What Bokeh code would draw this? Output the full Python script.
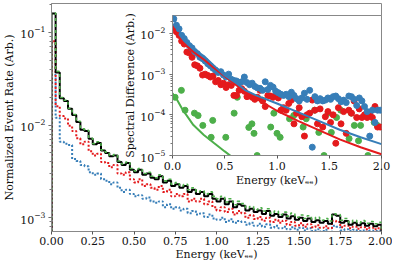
import numpy as np
from bokeh.plotting import figure
from bokeh.layouts import column
from bokeh.models import FixedTicker, PrintfTickFormatter, Range1d
from bokeh.embed import file_html
from bokeh.resources import INLINE

# ---------------- data ----------------
bin_edges = [round(0.025 * i, 4) for i in range(81)]
x_ticks_main = [0.0, 0.25, 0.5, 0.75, 1.0, 1.25, 1.5, 1.75, 2.0]
x_ticks_inset = [0.0, 0.5, 1.0, 1.5, 2.0]

rate_black = [0.160, 0.037, 0.0195, 0.0182, 0.0150, 0.0128, 0.0108, 0.0089, 0.0086, 0.0071,
              0.0062, 0.0064, 0.0053, 0.0050, 0.0046, 0.0047, 0.0040, 0.0037, 0.0039, 0.0033,
              0.0031, 0.0033, 0.0029, 0.0030, 0.0027, 0.0026, 0.0028, 0.0024, 0.0025, 0.0022,
              0.0023, 0.0021, 0.0022, 0.0019, 0.0020, 0.0018, 0.0019, 0.0017, 0.0018, 0.0016,
              0.0015, 0.0016, 0.0014, 0.0015, 0.0013, 0.0014, 0.00135, 0.0012, 0.00125, 0.00115,
              0.0012, 0.0011, 0.00118, 0.00105, 0.0011, 0.00102, 0.00108, 0.00098, 0.00104, 0.00095,
              0.0010, 0.00092, 0.00098, 0.00090, 0.00094, 0.00088, 0.00092, 0.00086, 0.00108, 0.00105,
              0.00088, 0.00092, 0.00084, 0.00088, 0.00083, 0.00087, 0.00082, 0.00086, 0.00081, 0.00084]
rate_green = [0.162, 0.038, 0.0198, 0.0185, 0.0152, 0.0130, 0.0110, 0.0091, 0.0088, 0.0072,
              0.0063, 0.0066, 0.0054, 0.0051, 0.0047, 0.0048, 0.0041, 0.0038, 0.0040, 0.0034,
              0.0032, 0.0034, 0.0030, 0.0031, 0.0028, 0.0027, 0.0029, 0.0025, 0.0026, 0.0023,
              0.0024, 0.0022, 0.0023, 0.0020, 0.0021, 0.0019, 0.00195, 0.0018, 0.0019, 0.0017,
              0.0016, 0.0017, 0.00148, 0.0016, 0.00138, 0.0015, 0.00142, 0.00128, 0.00132, 0.00122,
              0.00128, 0.00118, 0.00125, 0.00112, 0.00118, 0.00108, 0.00115, 0.00104, 0.00112, 0.00101,
              0.00107, 0.00098, 0.00105, 0.00096, 0.00101, 0.00094, 0.00098, 0.00092, 0.00110, 0.00108,
              0.00094, 0.00098, 0.00089, 0.00094, 0.00088, 0.00093, 0.00087, 0.00091, 0.00086, 0.00089]
rate_red = [0.080, 0.016, 0.0125, 0.0118, 0.0098, 0.0086, 0.0072, 0.0062, 0.0066, 0.0052,
            0.0047, 0.0049, 0.0040, 0.0039, 0.0035, 0.0037, 0.0030, 0.0029, 0.0031, 0.0026,
            0.0024, 0.0026, 0.0022, 0.0023, 0.0021, 0.0020, 0.0022, 0.0019, 0.0020, 0.0017,
            0.0018, 0.0017, 0.0018, 0.0015, 0.0016, 0.0015, 0.0016, 0.0014, 0.0015, 0.0013,
            0.0012, 0.0013, 0.00115, 0.00125, 0.00108, 0.00118, 0.00112, 0.0010, 0.00106, 0.00097,
            0.00102, 0.00093, 0.0010, 0.00090, 0.00095, 0.00088, 0.00093, 0.00084, 0.00090, 0.00082,
            0.00087, 0.00080, 0.00085, 0.00079, 0.00083, 0.00078, 0.00081, 0.00077, 0.00093, 0.00090,
            0.00079, 0.00082, 0.00077, 0.00080, 0.00076, 0.00079, 0.00075, 0.00078, 0.00075, 0.00077]
rate_blue = [0.035, 0.012, 0.0066, 0.0063, 0.0061, 0.0043, 0.0041, 0.0037, 0.0036, 0.0031,
             0.0029, 0.0030, 0.0026, 0.0025, 0.0023, 0.0024, 0.0021, 0.0019, 0.0020, 0.0018,
             0.0017, 0.00175, 0.0016, 0.00165, 0.0015, 0.00145, 0.0015, 0.0013, 0.0014, 0.00125,
             0.0013, 0.0012, 0.00125, 0.00112, 0.00118, 0.00108, 0.00112, 0.00102, 0.00108, 0.00098,
             0.00095, 0.0010, 0.00090, 0.00096, 0.00088, 0.00092, 0.00090, 0.00084, 0.00088, 0.00082,
             0.00086, 0.00080, 0.00085, 0.00078, 0.00082, 0.00077, 0.00080, 0.00075, 0.00079, 0.00074,
             0.00078, 0.00073, 0.00077, 0.00072, 0.00075, 0.00071, 0.00074, 0.00070, 0.00082, 0.00080,
             0.00073, 0.00075, 0.00072, 0.00074, 0.00072, 0.00073, 0.00071, 0.00073, 0.00072, 0.00073]

# inset: spectral differences per bin
diff_blue = [2.3e-2, 1.6e-2, 1.3e-2, 9e-3, 7.5e-3, 6e-3, 5e-3, 4.4e-3, 3.6e-3, 3.2e-3,
             2.6e-3, 2.4e-3, 2.1e-3, 1.8e-3, 1.6e-3, 1.4e-3, 1.25e-3, 1.1e-3, 1.15e-3, 9.5e-4,
             8.5e-4, 1.0e-3, 7.5e-4, 7e-4, 6.8e-4, 6.2e-4, 6.5e-4, 8.5e-4, 6.2e-4, 5.5e-4,
             6e-4, 5e-4, 4.6e-4, 4.5e-4, 4e-4, 6.5e-4, 4.2e-4, 5.3e-4, 4.8e-4, 3.8e-4,
             3.5e-4, 3.2e-4, 3e-4, 3.2e-4, 2.8e-4, 3.6e-4, 3e-4, 2.5e-4, 2.2e-4, 2.6e-4,
             3.4e-4, 2.4e-4, 4e-4, 1.6e-5, 2.8e-4, 2.2e-4, 2.5e-4, 2.2e-4, 2.3e-4, 2.6e-4,
             2.4e-4, 2.8e-4, 2.9e-4, 2.5e-4, 2.1e-4, 2.3e-4, 2.0e-4, 2.9e-4, 2.8e-4, 2.4e-4,
             1.7e-4, 2.6e-4, 2.2e-4, 1.6e-4, 1.2e-4, 3e-5, 1.3e-4, 6.5e-5, 1.3e-4, 1.3e-4]
diff_red = [1.4e-2, 1.1e-2, 9e-3, 6.5e-3, 5.5e-3, 3.5e-3, 3.3e-3, 2.6e-3, 1.7e-3, 1.6e-3,
            1.4e-3, 9.5e-4, 1.0e-3, 9.3e-4, 8.5e-4, 9e-4, 6.5e-4, 7e-4, 5.5e-4, 6e-4,
            4.7e-4, 5.5e-4, 5.3e-4, 3e-4, 3e-4, 4e-4, 4.4e-4, 3.8e-4, 2.8e-4, 3e-4,
            2.7e-4, 2.4e-4, 2.7e-4, 4e-4, 2.2e-4, 1.6e-4, 3e-4, 2.9e-4, 2.7e-4, 3e-4,
            2.6e-4, 1.3e-4, 1.5e-4, 1.3e-4, 1.9e-4, 2.3e-4, 6e-5, 1.1e-4, 1.5e-4, 9e-5,
            3e-5, 1.0e-4, 1.1e-4, 2.3e-4, 1.3e-4, 6e-5, 1.4e-4, 5e-5, 9e-5, 1.2e-4,
            6.5e-5, 1.0e-4, 2e-5, 1.5e-4, 6e-5, 1.2e-4, 3.5e-5, 1.3e-4, 1.1e-4, 2.2e-4,
            8.6e-5, 1.4e-4, 8.6e-5, 1.0e-4, 8.6e-5, 1.1e-4, 8.6e-5, 1.6e-4, 5e-5, 5e-5]
green_dot_E = [0.025, 0.085, 0.12, 0.21, 0.245, 0.29, 0.37, 0.385, 0.51, 0.59, 0.62, 0.73,
               0.76, 0.78, 0.81, 0.86, 0.94, 0.97, 1.0, 1.03, 1.12, 1.16, 1.25, 1.28, 1.36,
               1.4, 1.45, 1.49, 1.52, 1.57, 1.61, 1.69, 1.71, 1.74, 1.78, 1.8, 1.87, 1.93, 1.96]
green_dot_v = [2.7e-4, 4e-4, 1.3e-4, 1.1e-4, 9.6e-5, 5.5e-5, 2.8e-5, 7.3e-5, 2.8e-5, 1.1e-4,
               2.7e-4, 4.9e-5, 6e-5, 3.5e-5, 1.0e-5, 2.3e-4, 5e-5, 1.1e-4, 3.5e-5, 2.8e-5,
               8e-5, 9.6e-5, 5e-5, 8e-5, 1.3e-4, 3.7e-5, 1.0e-5, 1.1e-4, 3.7e-5, 8.6e-5,
               1.3e-4, 2.6e-5, 1.1e-4, 5.5e-5, 2.3e-5, 5.5e-5, 1.0e-5, 6.5e-5, 5.5e-5]

fit_blue_E = [0.0, 0.05, 0.1, 0.15, 0.2, 0.3, 0.4, 0.5, 0.6, 0.7, 0.8, 1.0, 1.2, 1.4, 1.6, 1.8, 2.0]
fit_blue_v = [2.8e-2, 1.4e-2, 7.9e-3, 5.4e-3, 4.2e-3, 2.8e-3, 1.6e-3, 9.3e-4, 6.3e-4, 4e-4,
              3e-4, 1.9e-4, 1.17e-4, 7.1e-5, 4.3e-5, 2.8e-5, 1.9e-5]
fit_red_E = [0.0, 0.05, 0.1, 0.2, 0.3, 0.4, 0.5, 0.6, 0.8, 1.0, 1.2, 1.4, 1.6, 1.8, 2.0]
fit_red_v = [1.5e-2, 8.9e-3, 6e-3, 3.5e-3, 2.3e-3, 1.4e-3, 8.9e-4, 5.6e-4, 2.5e-4, 1.26e-4,
             7.1e-5, 4.2e-5, 2.5e-5, 1.6e-5, 1.07e-5]
fit_green_E = [0.0, 0.05, 0.1, 0.2, 0.3, 0.4, 0.5, 0.6]
fit_green_v = [3.4e-4, 2.2e-4, 1.3e-4, 5.6e-5, 3.2e-5, 2e-5, 1.26e-5, 8e-6]

BLUE, RED, GREEN, BLACK = "#377eb8", "#e41a1c", "#4daf4a", "#000000"
FONT = "DejaVu Serif"
FRAME = "#888888"

bin_centers = [0.5 * (bin_edges[i] + bin_edges[i + 1]) for i in range(80)]


def style(fig, xlab, ylab):
    fig.xgrid.visible = False
    fig.ygrid.visible = False
    fig.outline_line_color = FRAME
    fig.outline_line_width = 1
    for ax in (fig.xaxis[0], fig.yaxis[0]):
        ax.axis_line_color = FRAME
        ax.major_tick_line_color = "#555555"
        ax.minor_tick_line_color = "#777777"
        ax.major_tick_out = 3
        ax.major_tick_in = 0
        ax.minor_tick_out = 2
        ax.minor_tick_in = 0
        ax.major_label_text_font = FONT
        ax.major_label_text_font_size = "11px"
        ax.major_label_text_color = "#111111"
        ax.axis_label_text_font = FONT
        ax.axis_label_text_font_size = "11px"
        ax.axis_label_text_font_style = "normal"
        ax.axis_label_text_color = "#111111"
        ax.major_label_standoff = 3
        ax.axis_label_standoff = 1
    fig.xaxis[0].axis_label = xlab
    fig.yaxis[0].axis_label = ylab
    fig.xaxis[0].major_label_standoff = 2
    fig.xaxis[0].axis_label_standoff = 0


# ---------------- main figure ----------------
p = figure(width=392, height=263, x_range=Range1d(0, 2.0), y_range=Range1d(7.1e-4, 0.205),
           y_axis_type="log", output_backend="svg", toolbar_location=None,
           min_border_left=48, min_border_right=2, min_border_top=3, min_border_bottom=31)
style(p, "Energy (keVₑₑ)", "Normalized Event Rate (Arb.)")
p.xaxis[0].ticker = FixedTicker(ticks=x_ticks_main)
p.xaxis[0].formatter = PrintfTickFormatter(format="%.2f")
p.xaxis[0].minor_tick_out = 0


def hist_step(fig, vals, color, dash, width):
    xs = [bin_edges[0]] + bin_edges
    ys = [1e-6] + list(vals) + [1e-6]
    fig.step(xs, ys, mode="after", line_color=color, line_dash=dash, line_width=width)


hist_step(p, rate_blue, BLUE, "2 2", 2)
hist_step(p, rate_red, RED, "2 2", 2)
hist_step(p, rate_black, BLACK, "solid", 2)
hist_step(p, rate_green, GREEN, "3 3", 1.6)

# ---------------- inset ----------------
q = figure(width=271, height=176, x_range=Range1d(0, 2.0), y_range=Range1d(1e-5, 0.0277),
           y_axis_type="log", output_backend="svg", toolbar_location=None,
           min_border_left=48, min_border_right=11, min_border_top=1, min_border_bottom=35,
           margin=(-249, 0, 0, 121), border_fill_alpha=0, background_fill_color="white")
style(q, "Energy (keVₑₑ)", "Spectral Difference (Arb.)")
q.xaxis[0].ticker = FixedTicker(ticks=x_ticks_inset)
q.xaxis[0].formatter = PrintfTickFormatter(format="%.1f")
q.xaxis[0].minor_tick_out = 0
q.xaxis[0].major_label_standoff = 3
q.xaxis[0].axis_label_standoff = 1
q.yaxis[0].major_label_standoff = 4
q.yaxis[0].axis_label_standoff = 0

db = np.array(diff_blue, dtype=float)
dr = np.array(diff_red, dtype=float)
q.scatter(green_dot_E, green_dot_v, size=6, color=GREEN)
q.scatter(bin_centers, dr, size=6, color=RED)
q.scatter(bin_centers, db, size=6, color=BLUE)
q.line(fit_green_E, fit_green_v, line_color=GREEN, line_width=2)
q.line(fit_red_E, fit_red_v, line_color=RED, line_width=2)
q.line(fit_blue_E, fit_blue_v, line_color=BLUE, line_width=2)

layout = column(p, q, spacing=0)
open("out.html", "w").write(file_html(layout, INLINE))
